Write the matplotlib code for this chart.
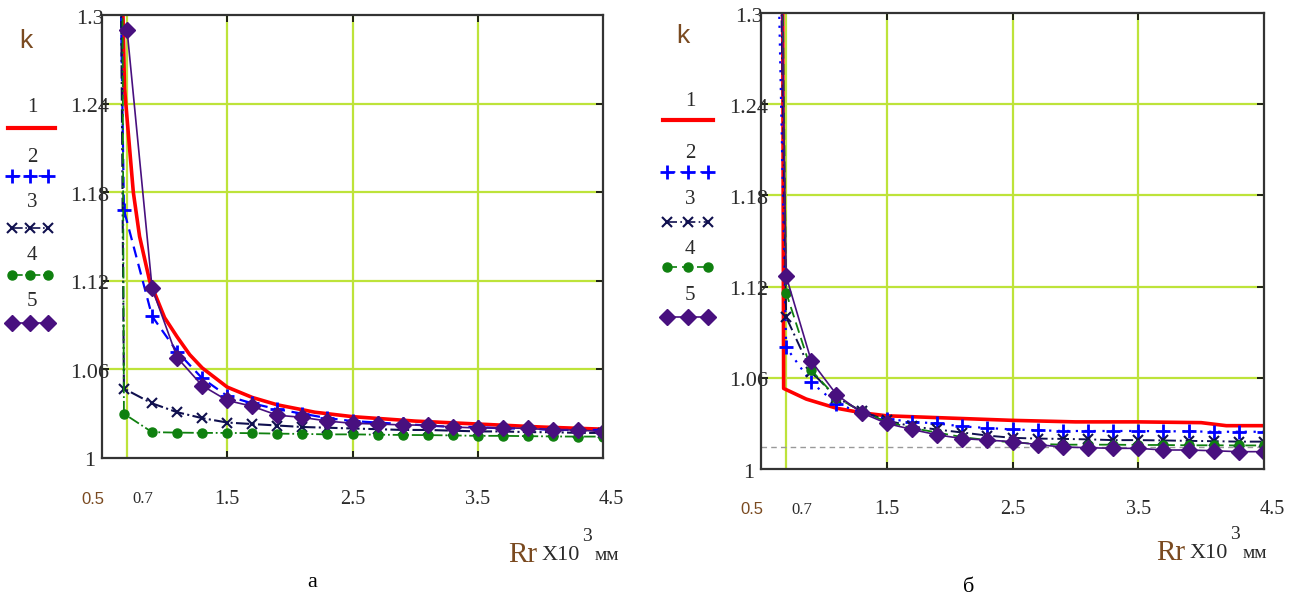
import matplotlib
matplotlib.use("Agg")
import matplotlib.pyplot as plt
from matplotlib.lines import Line2D

W, H = 1309, 601

# ── data ──────────────────────────────────────────────────────────────────────

GRID = [0.7, 0.9, 1.1, 1.3, 1.5, 1.7, 1.9, 2.1, 2.3, 2.5,
        2.7, 2.9, 3.1, 3.3, 3.5, 3.7, 3.9, 4.1, 4.3, 4.5]

# panel "а"
a1_x = [0.66, 0.68, 0.75, 0.8, 0.88, 1.0, 1.1, 1.2, 1.3, 1.5, 1.7, 1.9, 2.2, 2.5, 3.0, 3.5, 4.0, 4.5]
a1_y = [1.33, 1.25, 1.18, 1.15, 1.12, 1.095, 1.082, 1.07, 1.061, 1.048, 1.041, 1.036, 1.031, 1.028,
        1.025, 1.023, 1.021, 1.0195]
a2_x = [0.635, 0.675] + GRID[1:]
a2_y = [1.40, 1.168, 1.096, 1.072, 1.054, 1.042, 1.037, 1.033, 1.030, 1.027, 1.025, 1.024,
        1.023, 1.022, 1.021, 1.021, 1.020, 1.020, 1.019, 1.019, 1.019]
a3_x = [0.645, 0.675] + GRID[1:]
a3_y = [1.40, 1.047, 1.037, 1.031, 1.027, 1.024, 1.023, 1.022, 1.021, 1.0205, 1.020, 1.0195,
        1.019, 1.019, 1.0185, 1.018, 1.018, 1.0175, 1.0175, 1.017, 1.017]
a4_x = [0.66, 0.675] + GRID[1:]
a4_y = [1.40, 1.030, 1.0175, 1.0172, 1.017, 1.017, 1.0168, 1.0165, 1.0163, 1.016, 1.016,
        1.0158, 1.0156, 1.0155, 1.0153, 1.015, 1.015, 1.0148, 1.0146, 1.0145, 1.0145]
a5_x = GRID
a5_y = [1.29, 1.115, 1.068, 1.049, 1.039, 1.035, 1.029, 1.0275, 1.025, 1.0235, 1.023, 1.0224,
        1.0222, 1.021, 1.0203, 1.0205, 1.020, 1.019, 1.019, 1.0178]

# panel "б"
b1_x = [0.67, 0.68, 0.86, 1.1, 1.3, 1.5, 2.0, 2.5, 3.0, 3.5, 4.0, 4.2, 4.5]
b1_y = [1.40, 1.053, 1.046, 1.040, 1.037, 1.035, 1.0335, 1.032, 1.031, 1.031, 1.0305, 1.0285, 1.0285]
b2_x = [0.64] + GRID
b2_y = [1.32, 1.080, 1.057, 1.043, 1.037, 1.033, 1.031, 1.030, 1.028, 1.027, 1.026, 1.0255,
        1.025, 1.025, 1.025, 1.025, 1.0248, 1.0248, 1.0245, 1.0245, 1.0245]
b3_x = [0.645] + GRID
b3_y = [1.40, 1.100, 1.064, 1.047, 1.038, 1.032, 1.028, 1.026, 1.024, 1.022, 1.0205, 1.020,
        1.0198, 1.0195, 1.019, 1.019, 1.0188, 1.0185, 1.0183, 1.018, 1.018]
b4_x = [0.66] + GRID
b4_y = [1.40, 1.116, 1.065, 1.047, 1.038, 1.031, 1.027, 1.024, 1.021, 1.019, 1.0175, 1.0165,
        1.016, 1.016, 1.016, 1.0158, 1.0158, 1.0156, 1.0156, 1.0155, 1.0155]
b5_x = [0.65] + GRID
b5_y = [1.40, 1.127, 1.071, 1.049, 1.037, 1.030, 1.026, 1.0225, 1.020, 1.019, 1.018, 1.016,
        1.0145, 1.014, 1.0136, 1.0136, 1.0125, 1.0125, 1.012, 1.0114, 1.0114]
b_ref = 1.0145   # grey dashed level

LEGEND_NUMS = ["1", "2", "3", "4", "5"]
Y_TICKS = [1.0, 1.06, 1.12, 1.18, 1.24, 1.3]
Y_LABELS = ["1", "1.06", "1.12", "1.18", "1.24", "1.3"]
X_TICKS = [0.5, 0.7, 1.5, 2.5, 3.5, 4.5]
X_LABELS = ["0.5", "0.7", "1.5", "2.5", "3.5", "4.5"]

# ── styles ────────────────────────────────────────────────────────────────────

SERIF = "Liberation Serif"
SANS = "Liberation Sans"
GRID_C = "#bde33a"
RED, BLUE, NAVY, GREEN, PURPLE = "#ff0000", "#0000ff", "#10104f", "#0f800f", "#48107f"
BROWN = "#7a4a20"

styles_a = [
    dict(color=RED, lw=2.6, ls="-"),
    dict(color=BLUE, lw=1.6, ls=(0, (5, 3)), marker="+", ms=10, mew=2),
    dict(color=NAVY, lw=1.5, ls="-.", marker="x", ms=7, mew=1.5),
    dict(color=GREEN, lw=1.3, ls="-.", marker="o", ms=6.5),
    dict(color=PURPLE, lw=1.2, ls="-", marker="D", ms=8),
]
styles_b = [
    dict(color=RED, lw=2.6, ls="-"),
    dict(color=BLUE, lw=1.6, ls=(0, (1, 3)), marker="+", ms=10, mew=2),
    dict(color=NAVY, lw=1.4, ls=(0, (6, 2, 1, 2)), marker="x", ms=7, mew=1.5),
    dict(color=GREEN, lw=1.3, ls=(0, (6, 3)), marker="o", ms=6.5),
    dict(color=PURPLE, lw=1.2, ls="-", marker="D", ms=8),
]


def fx(px):
    return px / W


def fy(py):
    return 1 - py / H


fig = plt.figure(figsize=(W / 100, H / 100), dpi=100)
ax_a = fig.add_axes([fx(102), fy(458), (603 - 102) / W, (458 - 15) / H])
ax_b = fig.add_axes([fx(761), fy(469), (1264 - 761) / W, (469 - 13) / H])

# ── panels ────────────────────────────────────────────────────────────────────

def setup(ax):
    ax.set_xlim(0.5, 4.5)
    ax.set_ylim(1.0, 1.3)
    ax.set_xticks([1.5, 2.5, 3.5])
    ax.set_yticks([1.06, 1.12, 1.18, 1.24])
    ax.tick_params(direction="in", length=5, width=1.3, top=True, right=True,
                   labelbottom=False, labelleft=False, color="#111111")
    ax.grid(True, color=GRID_C, lw=1.6)
    ax.axvline(0.7, color=GRID_C, lw=1.6, zorder=0.6)
    ax.set_axisbelow(True)
    for sp in ax.spines.values():
        sp.set_linewidth(1.6)
        sp.set_color("#333333")

    for v, t in zip(Y_TICKS, Y_LABELS):
        ax.annotate(t, xy=(0, v), xycoords=("axes fraction", "data"),
                    xytext=(-12 * 0.72, -4 * 0.72), textcoords="offset points",
                    ha="center", va="center", fontsize=16, family=SERIF, color="#2a2a2a")
    x_dx = {"0.5": -9, "0.7": 16, "4.5": 8}
    for v, t in zip(X_TICKS, X_LABELS):
        fam = SANS if t == "0.5" else SERIF
        fs = 12 if t in ("0.5", "0.7") else 14.5
        col = BROWN if t == "0.5" else "#2a2a2a"
        ax.annotate(t, xy=(v, 0), xycoords=("data", "axes fraction"),
                    xytext=(x_dx.get(t, 0) * 0.72, -41 * 0.72), textcoords="offset points",
                    ha="center", va="center", fontsize=fs, family=fam, color=col)


setup(ax_a)
setup(ax_b)

for xs, ys, st in zip([a1_x, a2_x, a3_x, a4_x, a5_x], [a1_y, a2_y, a3_y, a4_y, a5_y], styles_a):
    ax_a.plot(xs, ys, **st)
for xs, ys, st in zip([b1_x, b2_x, b3_x, b4_x, b5_x], [b1_y, b2_y, b3_y, b4_y, b5_y], styles_b):
    ax_b.plot(xs, ys, **st)
ax_b.axhline(b_ref, color="#999999", lw=1.0, ls=(0, (4, 3)), zorder=1)

# ── mathcad-style legends ─────────────────────────────────────────────────────

def legend(x_num, x0, x1, num_ys, samp_ys, mark_xs, styles, k_pos):
    fig.text(fx(k_pos[0]), fy(k_pos[1]), "k", family=SANS, fontsize=19, color=BROWN,
             ha="center", va="center")
    for n, yn, ys, st in zip(LEGEND_NUMS, num_ys, samp_ys, styles):
        fig.text(fx(x_num), fy(yn), n, family=SERIF, fontsize=15, color="#2a2a2a",
                 ha="center", va="center")
        if "marker" not in st:
            fig.add_artist(Line2D([fx(x0), fx(x1)], [fy(ys), fy(ys)], color=st["color"],
                                  lw=3, transform=fig.transFigure))
        else:
            kw = dict(st)
            kw["lw"] = 1.2
            fig.add_artist(Line2D([fx(m) for m in mark_xs], [fy(ys)] * 3,
                                  transform=fig.transFigure, **kw))


legend(32, 8, 55, [107, 157, 203, 255, 302], [128, 176, 228, 275, 323],
       [12, 30, 48], styles_a, (26, 41))
legend(690, 663, 713, [102, 153, 200, 249, 295], [120, 172, 222, 267, 317],
       [667, 688, 708], styles_b, (683, 36))

# ── axis titles and captions ──────────────────────────────────────────────────

for x_rr, base in [(508, 562), (1156, 560)]:
    fig.text(fx(x_rr), fy(base), "Rr", family=SERIF, fontsize=21, color=BROWN, va="baseline")
    fig.text(fx(x_rr + 34), fy(base - 2), "X10", family=SERIF, fontsize=16, color="#2a2a2a",
             va="baseline")
    fig.text(fx(x_rr + 74), fy(base - 21), "3", family=SERIF, fontsize=14, color="#2a2a2a",
             va="baseline")
    fig.text(fx(x_rr + 87), fy(base - 2), "мм", family=SERIF, fontsize=14, color="#2a2a2a",
             va="baseline")

fig.text(fx(312), fy(587), "а", family=SERIF, fontsize=16, ha="center", va="baseline")
fig.text(fx(969), fy(592), "б", family=SERIF, fontsize=16, ha="center", va="baseline")

fig.savefig("out.png", dpi=100)
